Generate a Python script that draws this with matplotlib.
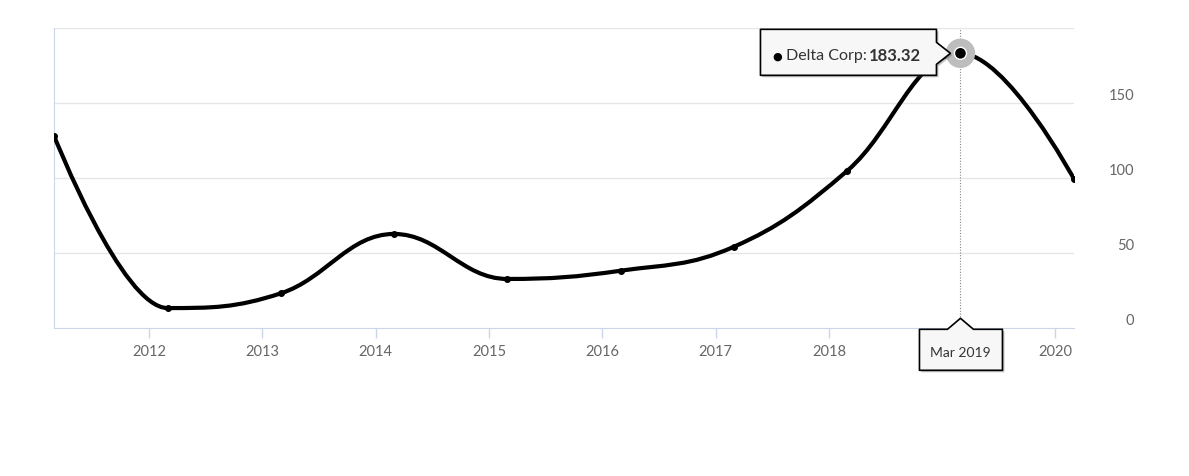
import numpy as np
import matplotlib
matplotlib.use("Agg")
import matplotlib.pyplot as plt
import matplotlib.dates as mdates
from matplotlib.path import Path
from matplotlib.patches import PathPatch, Polygon, Circle
from matplotlib.transforms import IdentityTransform, offset_copy
from datetime import datetime

plt.rcParams['font.family'] = ['Lato', 'DejaVu Sans']

# Delta Corp values, one point each March
years = [2011, 2012, 2013, 2014, 2015, 2016, 2017, 2018, 2019, 2020]
values = [128.4, 13.5, 23.3, 62.9, 32.9, 38.4, 54.4, 105.0, 183.32, 99.5]
series_name = "Delta Corp"
hover_index = 8
hover_label = "Mar 2019"
y_ticks = [0, 50, 100, 150, 200]
y_labels = ["0", "50", "100", "150", ""]
x_tick_years = list(range(2012, 2021))

dates = [datetime(y, 3, 1) for y in years]
xs = mdates.date2num(dates)
ys = np.array(values, dtype=float)


def spline_path(x, y, smoothing=1.5):
    # highcharts-style spline: cubic bezier with smoothed control points
    n = len(x)
    lcx, lcy = x.copy(), y.copy()
    rcx, rcy = x.copy(), y.copy()
    d = smoothing + 1
    for i in range(1, n - 1):
        lx, ly = x[i - 1], y[i - 1]
        nx, ny = x[i + 1], y[i + 1]
        px, py = x[i], y[i]
        lx_c = (smoothing * px + lx) / d
        ly_c = (smoothing * py + ly) / d
        rx_c = (smoothing * px + nx) / d
        ry_c = (smoothing * py + ny) / d
        corr = ((ry_c - ly_c) * (rx_c - px)) / (rx_c - lx_c) + py - ry_c
        ly_c += corr
        ry_c += corr
        if ly_c > ly and ly_c > py:
            ly_c = max(ly, py)
            ry_c = 2 * py - ly_c
        elif ly_c < ly and ly_c < py:
            ly_c = min(ly, py)
            ry_c = 2 * py - ly_c
        if ry_c > ny and ry_c > py:
            ry_c = max(ny, py)
            ly_c = 2 * py - ry_c
        elif ry_c < ny and ry_c < py:
            ry_c = min(ny, py)
            ly_c = 2 * py - ry_c
        lcx[i], lcy[i], rcx[i], rcy[i] = lx_c, ly_c, rx_c, ry_c
    verts = [(x[0], y[0])]
    codes = [Path.MOVETO]
    for i in range(1, n):
        verts += [(rcx[i - 1], rcy[i - 1]), (lcx[i], lcy[i]), (x[i], y[i])]
        codes += [Path.CURVE4] * 3
    return Path(verts, codes)


W, H = 1189, 477
fig = plt.figure(figsize=(W / 100, H / 100), dpi=100)
ax = fig.add_axes([54 / W, (H - 329.3) / H, (1074 - 54) / W, 300 / H])

ax.set_xlim(xs[0], xs[-1])
ax.set_ylim(0, 200)

grid_c = "#e6e6e6"
axis_c = "#ccd6eb"
for t in y_ticks[1:]:
    ax.axhline(t, color=grid_c, lw=1, zorder=1)

ax.add_patch(PathPatch(spline_path(xs, ys), fill=False, edgecolor="black",
                       lw=3, capstyle="round", joinstyle="round", zorder=3))
ax.plot(xs, ys, "o", color="black", ms=4, zorder=4)

for s in ["top", "right"]:
    ax.spines[s].set_visible(False)
ax.spines["bottom"].set_color(axis_c)
ax.spines["left"].set_color(axis_c)

# x ticks; the hovered year's label sits under the tooltip label box
ax.set_xticks(mdates.date2num([datetime(y, 1, 1) for y in x_tick_years]))
ax.set_xticklabels(["" if y == years[hover_index] else str(y) for y in x_tick_years])
ax.tick_params(axis="x", direction="out", length=7, width=1, color=axis_c,
               labelsize=10.5, labelcolor="#666666", pad=4)

# y labels on the right, sitting a little above their grid lines
ax.set_yticks(y_ticks)
ax.tick_params(axis="y", left=False, right=False, labelleft=False, labelright=False)
ylab_tr = offset_copy(ax.get_yaxis_transform(), fig=fig, x=0, y=8, units="dots")
x_lab = (1134 - 54) / (1074 - 54)
for t, lab in zip(y_ticks, y_labels):
    ax.text(x_lab, t, lab, transform=ylab_tr, ha="right", va="center",
            fontsize=10.5, color="#666666", clip_on=False)

# hover state: crosshair, halo, tooltip and x label
hx, hy = xs[hover_index], ys[hover_index]
ax.axvline(hx, color="#888888", lw=0.8, ls=(0, (1, 1.5)), zorder=2)

fig.canvas.draw()
renderer = fig.canvas.get_renderer()
px, py = ax.transData.transform((hx, hy))
ident = IdentityTransform()

fig.add_artist(Circle((px, py), 14, transform=ident, color="#bdbdbd", zorder=5))
fig.add_artist(Circle((px, py), 6, transform=ident, facecolor="black",
                      edgecolor="white", lw=1, zorder=6))

# tooltip box with arrow pointing to the point
bl, br = px - 200, px - 24
bt, bb = py + 24, py - 22


def tooltip_poly(dx, dy):
    return [(bl + dx, bb + dy), (br + dx, bb + dy), (br + dx, py - 11 + dy),
            (px - 10 + dx, py + dy), (br + dx, py + 11 + dy),
            (br + dx, bt + dy), (bl + dx, bt + dy)]


fig.add_artist(Polygon(tooltip_poly(2, -2), closed=True, transform=ident,
                       facecolor="#555555", edgecolor="none", alpha=0.35, zorder=7))
fig.add_artist(Polygon(tooltip_poly(0, 0), closed=True, transform=ident,
                       facecolor="#f7f7f7", edgecolor="black", lw=1.2,
                       joinstyle="round", zorder=8))
ty = py - 2
fig.text(bl + 12, ty, "\u25cf", transform=ident, fontsize=8, color="black",
         va="center", ha="left", zorder=9, family="DejaVu Sans")
name_t = fig.text(bl + 26, ty, series_name + ":", transform=ident, fontsize=11.5,
                  color="#333333", va="center", ha="left", zorder=9)
name_w = name_t.get_window_extent(renderer).width
fig.text(bl + 26 + name_w + 2, ty, f"{hy:.2f}", transform=ident, fontsize=12,
         color="#333333", va="center", ha="left", fontweight="bold", zorder=9)

# x label box under the crosshair
ax_y0 = ax.transAxes.transform((0, 0))[1]
lt, lb = ax_y0 - 1, ax_y0 - 42
ll, lr = px - 41, px + 42


def label_poly(dx, dy):
    return [(ll + dx, lb + dy), (lr + dx, lb + dy), (lr + dx, lt + dy),
            (px + 13 + dx, lt + dy), (px + dx, lt + 11 + dy),
            (px - 13 + dx, lt + dy), (ll + dx, lt + dy)]


fig.add_artist(Polygon(label_poly(2, -2), closed=True, transform=ident,
                       facecolor="#555555", edgecolor="none", alpha=0.35, zorder=7))
fig.add_artist(Polygon(label_poly(0, 0), closed=True, transform=ident,
                       facecolor="#f7f7f7", edgecolor="black", lw=1.2,
                       joinstyle="round", zorder=8))
fig.text(px, (lt + lb) / 2 - 2, hover_label, transform=ident, fontsize=10,
         color="#333333", va="center", ha="center", zorder=9)

fig.savefig("out.png", dpi=100)
